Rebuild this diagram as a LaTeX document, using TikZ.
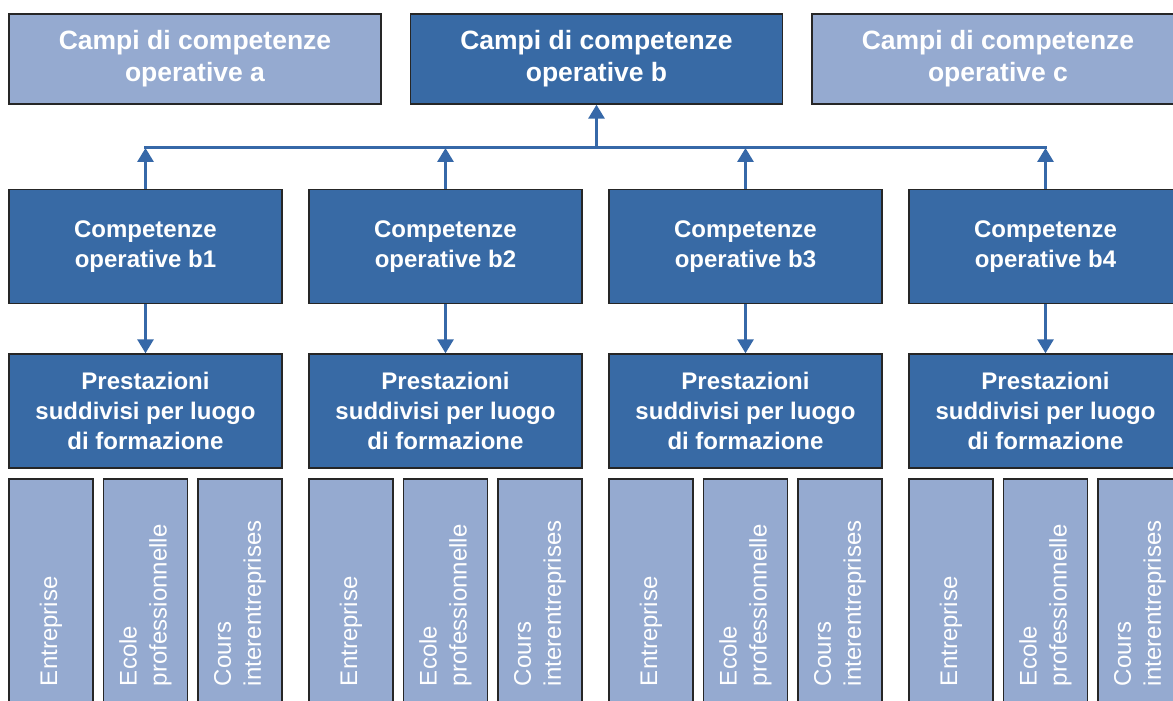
\documentclass[tikz,border=0pt]{standalone}
\usepackage{fontspec}
\setmainfont{Liberation Sans}
\usetikzlibrary{arrows.meta}
\definecolor{darkblue}{RGB}{56,106,165}
\definecolor{lightblue}{RGB}{149,170,208}
\definecolor{linkblue}{RGB}{54,104,168}

\begin{document}
\begin{tikzpicture}[x=0.5pt,y=-0.5pt,
  box/.style={draw=black!85,line width=0.7pt,text=white,align=center,inner sep=0pt},
  topbox/.style={box,minimum width=186pt,minimum height=45pt,
    font=\bfseries\fontsize{13.25}{16}\selectfont},
  compbox/.style={box,fill=darkblue,minimum width=136.5pt,minimum height=57pt,
    font=\bfseries\fontsize{12}{14.8}\selectfont},
  placebox/.style={box,fill=lightblue,rotate=90,minimum width=113.5pt,
    minimum height=42pt,inner xsep=10pt,text width=93.5pt,align=left,
    font=\fontsize{12}{15}\selectfont},
  link/.style={draw=linkblue,line width=1.5pt},
  arrow/.style={link,-{Triangle[width=8pt,length=7pt]}}]
  \useasboundingbox (0,0) rectangle (1173,701);
  % Fields of competence
  \node [topbox,fill=lightblue] (campiA) at (195,59)
    {Campi di competenze\\operative a};
  \node [topbox,fill=darkblue] (campiB) at (596.5,59)
    {Campi di competenze\\operative b};
  \node [topbox,fill=lightblue] (campiC) at (998,59)
    {Campi di competenze\\operative c};
  \coordinate (bus) at (596.5,148);
  % Columns b1 ... b4
  \foreach \i/\x in {1/145.5,2/445.5,3/745.5,4/1045.5} {
    \node [compbox] (comp\i) at (\x,246.5) {Competenze\\operative b\i};
    \node [compbox] (prest\i) at (\x,411)
      {Prestazioni\\suddivisi per luogo\\di formazione};
    \node [placebox] (firm\i) at (\x-94.5,592.5) {Entreprise};
    \node [placebox] (school\i) at (\x,592.5) {Ecole\\professionnelle};
    \node [placebox] (course\i) at (\x+94.5,592.5) {Cours\\interentreprises};
    \draw [arrow] (comp\i) -- (comp\i.north |- bus);
    \draw [arrow] (comp\i) -- (prest\i);
  }
  \draw [link,line cap=rect] (comp1.north |- bus) -- (comp4.north |- bus);
  \draw [arrow] (bus) -- (campiB);
\end{tikzpicture}
\end{document}
